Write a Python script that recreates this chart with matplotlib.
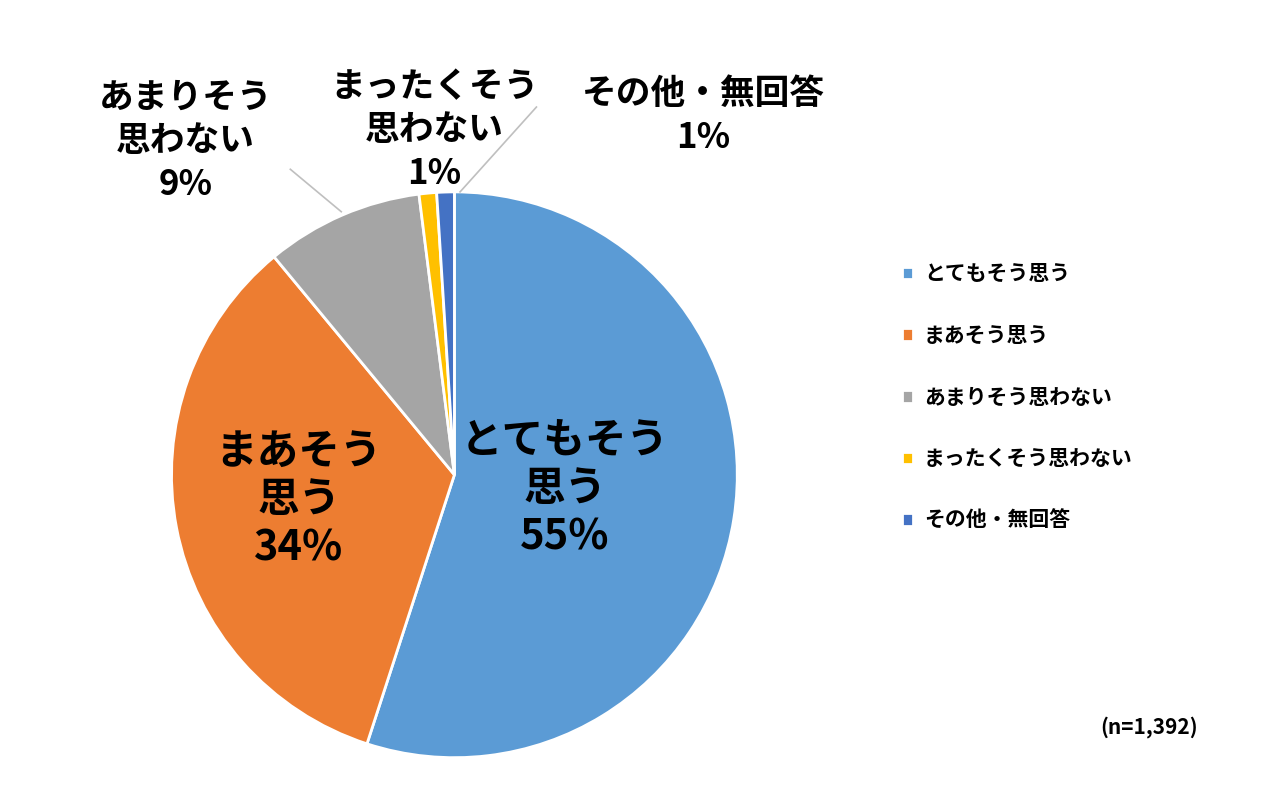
import matplotlib
matplotlib.use('Agg')
import matplotlib.pyplot as plt

plt.rcParams['font.family'] = ['Noto Sans CJK JP', 'DejaVu Sans']

labels = ['とてもそう思う', 'まあそう思う', 'あまりそう思わない', 'まったくそう思わない', 'その他・無回答']
values = [55, 34, 9, 1, 1]
colors = ['#5B9BD5', '#ED7D31', '#A5A5A5', '#FFC000', '#4472C4']

fig = plt.figure(figsize=(12.8, 8.02), dpi=100)
ax = fig.add_axes([0.134, 0.055, 0.442, 0.706])
wedges, _ = ax.pie(values, colors=colors, startangle=90, counterclock=False,
                   wedgeprops=dict(edgecolor='white', linewidth=2))
ax.set_xlim(-1, 1)
ax.set_ylim(-1, 1)
ax.set_aspect('equal')
ax.axis('off')

big = dict(fontsize=30, fontweight='bold', ha='center', va='center', linespacing=1.2)
ax.text(0.39, -0.05, 'とてもそう\n思う\n55%', **big)
ax.text(-0.55, -0.09, 'まあそう\n思う\n34%', **big)

outer = dict(fontsize=25, fontweight='bold', ha='center', va='center', linespacing=1.3, clip_on=False)
ax.text(-0.95, 1.18, 'あまりそう\n思わない\n9%', **outer)
ax.text(-0.07, 1.22, 'まったくそう\n思わない\n1%', **outer)
ax.text(0.88, 1.27, 'その他・無回答\n1%', **outer)

lc = '#BFBFBF'
ax.plot([-0.58, -0.40], [1.08, 0.93], color=lc, lw=1.2, clip_on=False)
ax.plot([0.29, 0.02], [1.30, 1.0], color=lc, lw=1.2, clip_on=False)

fig.legend(wedges, labels, loc='upper left', bbox_to_anchor=(0.69, 0.695),
           frameon=False, prop=dict(size=15, weight='bold'),
           handlelength=0.55, handleheight=0.55, handletextpad=0.5, labelspacing=1.95)

fig.text(0.898, 0.093, '(n=1,392)', fontsize=15, fontweight='bold', ha='center', va='center')

fig.savefig('out.png', dpi=100)
